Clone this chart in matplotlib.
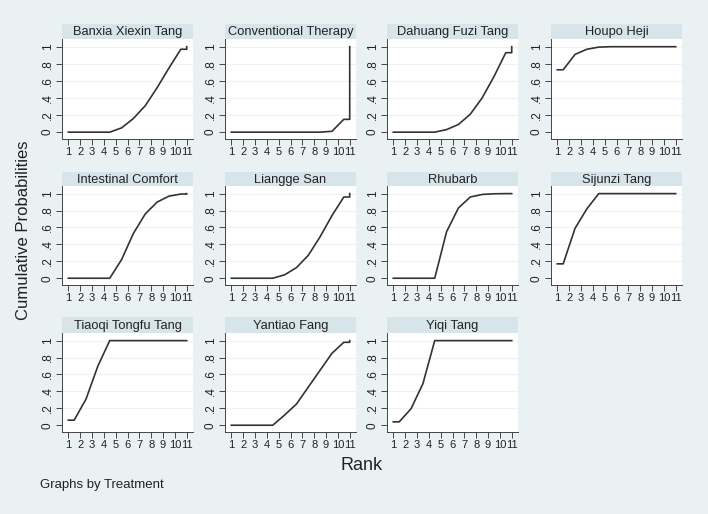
import matplotlib
matplotlib.use("Agg")
import matplotlib.pyplot as plt

plt.rcParams['font.family'] = ['Liberation Sans', 'DejaVu Sans']

treatments = ["Banxia Xiexin Tang", "Conventional Therapy", "Dahuang Fuzi Tang", "Houpo Heji",
              "Intestinal Comfort", "Liangge San", "Rhubarb", "Sijunzi Tang",
              "Tiaoqi Tongfu Tang", "Yantiao Fang", "Yiqi Tang"]
ranks = list(range(1, 12))
cum_banxia = [0, 0, 0, 0, 0.05, 0.16, 0.31, 0.52, 0.75, 0.97, 1.0]
cum_conv = [0, 0, 0, 0, 0, 0, 0, 0, 0.01, 0.15, 1.0]
cum_dahuang = [0, 0, 0, 0, 0.03, 0.09, 0.21, 0.40, 0.65, 0.93, 1.0]
cum_houpo = [0.73, 0.91, 0.97, 0.995, 1.0, 1.0, 1.0, 1.0, 1.0, 1.0, 1.0]
cum_intest = [0, 0, 0, 0, 0.22, 0.53, 0.76, 0.90, 0.97, 0.995, 1.0]
cum_liangge = [0, 0, 0, 0, 0.04, 0.125, 0.27, 0.49, 0.74, 0.96, 1.0]
cum_rhubarb = [0, 0, 0, 0, 0.55, 0.83, 0.96, 0.99, 0.998, 1.0, 1.0]
cum_sijunzi = [0.17, 0.59, 0.82, 1.0, 1.0, 1.0, 1.0, 1.0, 1.0, 1.0, 1.0]
cum_tiaoqi = [0.06, 0.31, 0.70, 1.0, 1.0, 1.0, 1.0, 1.0, 1.0, 1.0, 1.0]
cum_yantiao = [0, 0, 0, 0, 0.12, 0.25, 0.45, 0.65, 0.85, 0.98, 1.0]
cum_yiqi = [0.04, 0.195, 0.49, 1.0, 1.0, 1.0, 1.0, 1.0, 1.0, 1.0, 1.0]
series = [cum_banxia, cum_conv, cum_dahuang, cum_houpo, cum_intest, cum_liangge,
          cum_rhubarb, cum_sijunzi, cum_tiaoqi, cum_yantiao, cum_yiqi]
ytick_vals = [0, 0.2, 0.4, 0.6, 0.8, 1.0]
ytick_labels = ["0", ".2", ".4", ".6", ".8", "1"]

W, H = 708, 514
BG = "#EAF1F3"
STRIP = "#D7E5EB"
fig = plt.figure(figsize=(W / 100, H / 100), dpi=100, facecolor=BG)

lefts = [62, 225, 387, 551]
pw = 131
rows = [(24, 39, 139), (172, 186, 285), (317, 333, 432)]

def fx(px):
    return px / W

def fy(py):
    return 1 - py / H

for i, (name, cum) in enumerate(zip(treatments, series)):
    r, c = divmod(i, 4)
    l = lefts[c]
    st, pt, pb = rows[r]
    ax = fig.add_axes([fx(l), fy(pb), pw / W, (pb - pt) / H])
    sa = fig.add_axes([fx(l), fy(pt), pw / W, (pt - st) / H])
    sa.set_facecolor(STRIP)
    sa.set_xticks([]); sa.set_yticks([])
    for s in sa.spines.values():
        s.set_visible(False)
    sa.text(0.5, 0.45, name, ha="center", va="center", fontsize=9.3, color="#222222",
            transform=sa.transAxes)

    xs = [ranks[0]] + [rk + 0.5 for rk in ranks[:-1]] + [ranks[-1], ranks[-1]]
    ys = [cum[0]] + cum[:-1] + [cum[-2], cum[-1]]
    ax.set_facecolor("white")
    for v in ytick_vals[1:]:
        ax.axhline(v, color="#EDF3F5", lw=0.8, zorder=0)
    ax.plot(xs, ys, color="#333333", lw=1.2)
    ax.set_xlim(0.47, 11.53)
    ax.set_ylim(-0.08, 1.09)
    ax.set_xticks(ranks)
    ax.set_xticklabels([str(rk) for rk in ranks], fontsize=8, color="#222222")
    ax.set_yticks(ytick_vals)
    ax.set_yticklabels(ytick_labels, fontsize=8.5, color="#222222", rotation=90, va="center")
    ax.tick_params(axis="x", length=4, width=0.7, color="#444444", pad=2)
    ax.tick_params(axis="y", length=4, width=0.7, color="#444444", pad=2)
    for side in ["top", "right"]:
        ax.spines[side].set_visible(False)
    for side in ["left", "bottom"]:
        ax.spines[side].set_color("#444444")
        ax.spines[side].set_linewidth(0.7)

fig.text(fx(362), fy(466), "Rank", ha="center", va="center", fontsize=13, color="#222222")
fig.text(fx(24), fy(230), "Cumulative Probabilities", ha="center", va="center",
         fontsize=12, rotation=90, color="#222222")
fig.text(fx(40), fy(485), "Graphs by Treatment", ha="left", va="center", fontsize=9.5,
         color="#222222")

fig.savefig("out.png", dpi=100, facecolor=BG)
